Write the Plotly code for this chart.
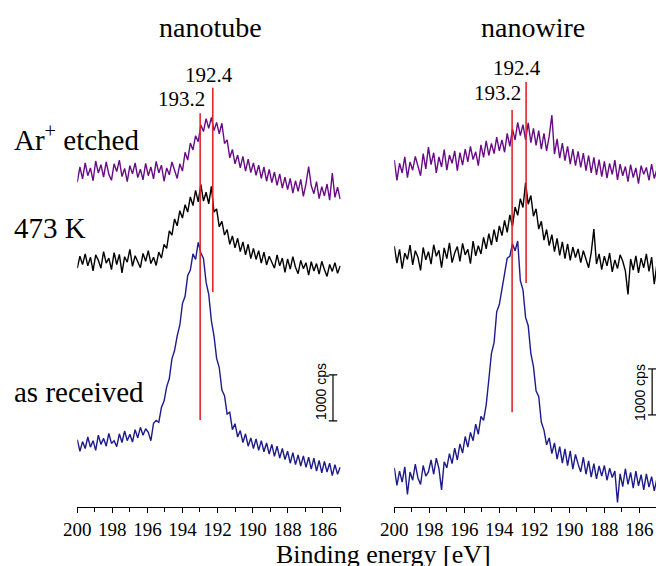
import plotly.graph_objects as go

# ---------------- data ----------------
# binding-energy sampling grid (eV), 200 -> 185 in 0.15 eV steps
energy = [round(200 - 0.15 * i, 2) for i in range(101)]

tick_values = [200, 198, 196, 194, 192, 190, 188, 186]
tick_labels = ["200", "198", "196", "194", "192", "190", "188", "186"]

panel_titles = ["nanotube", "nanowire"]
row_labels = ["Ar<sup>+</sup> etched", "473 K", "as received"]

# intensities (cps, relative to each spectrum's own baseline)
nanotube_etched = [
    280, 610, 350, 700, 420, 590, 310, 740, 480, 660,
    390, 720, 450, 320, 680, 510, 760, 400, 580, 290,
    640, 460, 700, 380, 560, 330, 690, 420, 610, 350,
    730, 480, 650, 300, 590, 440, 720, 510, 360, 680,
    520, 930, 760, 1130, 980, 1290, 1160, 1520, 1380, 1660,
    1450, 1690, 1400, 1580, 1330, 1560, 1120, 1200, 810, 990,
    680, 870, 590, 840, 520, 780, 490, 700, 430, 650,
    360, 610, 300, 560, 270, 500, 210, 460, 150, 390,
    120, 360, 40, 310, 80, 340, -30, 250, 620, 200,
    30, 290, -80, 180, -20, 240, -110, 480, -50, 170,
    -90]
nanotube_473K = [
    40, 300, 120, 350, 90, 280, -20, 330, 210, 40,
    400, 150, 260, 10, 380, 120, 340, -60, 290, 170,
    450, 80, 310, 160, 50, 360, 190, 420, 140, 280,
    100, 390, 260, 560, 470, 850, 760, 1110, 960, 1290,
    1130, 1420, 1260, 1590, 1400, 1730, 1480, 1860, 1500, 1690,
    1440, 1820, 1260, 1330, 940, 1060, 760, 880, 560, 740,
    480, 690, 400, 610, 330, 560, 250, 470, 230, 420,
    150, 390, 110, 300, 170, 40, 330, 90, 260, -50,
    240, 20, 290, 60, -80, 210, 30, 160, -110, 180,
    -20, 140, -90, 190, 10, -140, 120, -30, 160, -70,
    90]
nanotube_received = [
    660, 410, 620, 470, 720, 500, 640, 430, 760, 560,
    690, 520, 800, 580, 640, 510, 790, 600, 850, 640,
    780, 610, 880, 700, 930, 760, 900, 820, 640, 1020,
    1080, 1040, 1360, 1500, 1810, 1990, 2420, 2600, 2920, 3150,
    3620, 3780, 4230, 4350, 4700, 4580, 4950, 4720, 4600, 4080,
    3820, 3250, 2920, 2430, 2230, 1740, 1620, 1220, 1260, 880,
    1010, 720, 860, 600, 790, 520, 700, 470, 680, 430,
    640, 400, 590, 350, 560, 300, 520, 260, 470, 230,
    410, 150, 380, 120, 330, 90, 310, 60, 280, 20,
    260, -20, 210, -60, 190, -40, 150, -120, 120, -90,
    60]

nanowire_etched = [
    320, -120, 250, 40, 390, -60, 280, 100, 400, 190,
    -20, 460, 130, 600, 220, 480, 40, 390, 170, 550,
    100, 430, 250, 520, 90, 480, 210, 560, 280, 620,
    330, 500, 200, 650, 380, 740, 420, 680, 460, 820,
    520, 760, 490, 900, 620, 1000, 760, 1140, 850, 1090,
    760, 1130, 700, 1010, 640, 960, 560, 900, 520, 840,
    1300, 450, 780, 360, 690, 310, 620, 230, 560, 200,
    510, 160, 470, 90, 420, 40, 380, 0, 330, -40,
    290, -70, 250, 10, 320, -110, 230, -20, 180, -150,
    220, -60, 150, -190, 200, 10, 160, -120, 230, -80,
    120]
nanowire_473K = [
    450, 80, 380, -40, 300, 160, 470, 40, 350, 210,
    -80, 420, 150, 330, 60, 480, 230, 360, -20, 410,
    180, 520, 90, 300, 440, 120, 510, 260, 380, 70,
    560, 240, 460, 280, 640, 390, 720, 470, 810, 540,
    890, 680, 1010, 750, 1130, 880, 1300, 1120, 1480, 1290,
    1830, 1360, 1550, 1100, 1260, 820, 990, 580, 810, 460,
    700, 330, 620, 250, 540, 180, 500, 140, 430, 200,
    390, 90, 350, 160, -20, 310, 820, 60, 280, -60,
    230, 20, 300, -110, 150, -40, 260, 120, -90, -600,
    170, -70, 240, -130, 190, -20, 280, -100, 210, -380,
    60]
nanowire_received = [
    330, -50, 260, 20, 350, -250, 240, 60, 410, 110,
    -30, 380, 150, 240, 500, 190, 540, 310, -150, 460,
    330, 640, 420, 760, 500, 850, 650, 1010, 780, 1100,
    920, 1280, 1060, 1450, 1360, 1700, 2250, 2820, 3050, 3720,
    3880, 4230, 4500, 4890, 4930, 5200, 5050, 5260, 4400, 4200,
    3600, 3420, 2820, 2530, 2000, 1880, 1320, 1150, 830, 980,
    640, 870, 520, 790, 430, 740, 380, 700, 300, 620,
    410, 240, 560, 190, 480, 130, 420, 90, 370, 150,
    380, 60, 320, 120, 260, -420, 200, -80, 310, -30,
    230, -110, 260, -60, 180, -150, 200, -90, 140, -170,
    90]

# vertical stacking offsets (cps)
nanotube_offsets = [6760, 5130, 780]
nanowire_offsets = [7200, 5200, 500]

# marker lines: label, drawn position (eV), bottom / top (cps)
line_labels = ["193.2", "192.4"]
nanotube_line_e = [192.99, 192.27]
nanotube_line_bottom = [1870, 4650]
nanotube_line_top = [8540, 9090]
nanowire_line_e = [193.27, 192.47]
nanowire_line_bottom = [2040, 4850]
nanowire_line_top = [8610, 9220]

scale_bar_cps = 1000

# ---------------- styling ----------------
colors = ["#680c85", "#000000", "#1d1a8a"]
red = "#e3262b"
serif = "Liberation Serif, Times New Roman, serif"
W, H = 656, 566
AXIS_Y = 507            # pixel row of the x-axis line

def fx(px):
    return px / W

def fy(px):
    return 1 - px / H

fig = go.Figure()

panels = [
    ("x", "y", [nanotube_etched, nanotube_473K, nanotube_received], nanotube_offsets,
     nanotube_line_e, nanotube_line_bottom, nanotube_line_top),
    ("x2", "y2", [nanowire_etched, nanowire_473K, nanowire_received], nanowire_offsets,
     nanowire_line_e, nanowire_line_bottom, nanowire_line_top),
]

for xa, ya, series, offs, le, lb, lt in panels:
    for s, off, c in zip(series, offs, colors):
        fig.add_trace(go.Scatter(x=energy, y=[v + off for v in s], mode="lines",
                                 line=dict(color=c, width=1.4), xaxis=xa, yaxis=ya,
                                 showlegend=False, hoverinfo="skip"))
    for e, b, t in zip(le, lb, lt):
        fig.add_trace(go.Scatter(x=[e, e], y=[b, t], mode="lines",
                                 line=dict(color=red, width=1.6), xaxis=xa, yaxis=ya,
                                 showlegend=False, hoverinfo="skip"))

yrange = [-21.74, 11000]
ydom = [fy(AXIS_Y), 1]
xcommon = dict(showgrid=False, zeroline=False, showline=True, linecolor="black", linewidth=1,
               ticks="outside", ticklen=5, tickwidth=1, tickcolor="black",
               tickmode="array", tickvals=tick_values, ticktext=tick_labels,
               minor=dict(dtick=1, tick0=200, ticks="outside", ticklen=4, tickcolor="black"),
               tickfont=dict(family=serif, size=19, color="black"), automargin=False)
fig.update_layout(
    width=W, height=H,
    margin=dict(l=0, r=0, t=0, b=0, autoexpand=False),
    paper_bgcolor="white", plot_bgcolor="white",
    xaxis=dict(domain=[fx(77.3), fx(340.7)], range=[200, 184.97], anchor="y", **xcommon),
    xaxis2=dict(domain=[fx(394.3), 1.0], range=[200, 185.05], anchor="y2", **xcommon),
    yaxis=dict(range=yrange, visible=False, domain=ydom),
    yaxis2=dict(range=yrange, visible=False, domain=ydom, anchor="x2"),
)

ann = []
# panel titles
for t, xc in zip(panel_titles, [210, 533]):
    ann.append(dict(text=t, x=fx(xc), y=fy(27), xref="paper", yref="paper",
                    showarrow=False, font=dict(family=serif, size=28, color="black"),
                    xanchor="center", yanchor="middle"))
# row labels
for t, yc in zip(row_labels, [138, 228, 392]):
    ann.append(dict(text=t, x=fx(12), y=fy(yc), xref="paper", yref="paper",
                    showarrow=False, font=dict(family=serif, size=29, color="black"),
                    xanchor="left", yanchor="middle"))
# line labels
label_pos = [
    ("x", "y", [(194.03, 8848), (192.49, 9370)]),
    ("x2", "y2", [(194.13, 8979), (192.99, 9522)]),
]
for xa, ya, pos in label_pos:
    for t, (lx, ly) in zip(line_labels, pos):
        ann.append(dict(text=t, x=lx, y=ly, xref=xa, yref=ya, showarrow=False,
                        font=dict(family=serif, size=21, color="black"),
                        xanchor="center", yanchor="middle"))
# axis title
ann.append(dict(text="Binding energy [eV]", x=fx(383), y=fy(554), xref="paper", yref="paper",
                showarrow=False, font=dict(family=serif, size=26, color="black"),
                xanchor="center", yanchor="middle"))

# scale bars
shapes = []
for xa, ya, bx, b0, tx, ty in [("x", "y", 185.41, 1850, 186.10, 2500),
                                ("x2", "y2", 185.27, 1980, 185.96, 2460)]:
    b1 = b0 + scale_bar_cps
    shapes.append(dict(type="line", xref=xa, yref=ya, x0=bx, x1=bx, y0=b0, y1=b1,
                       line=dict(color="black", width=1.2)))
    for yy in (b0, b1):
        shapes.append(dict(type="line", xref=xa, yref=ya, x0=bx + 0.24, x1=bx - 0.24, y0=yy, y1=yy,
                           line=dict(color="black", width=1.2)))
    ann.append(dict(text=f"{scale_bar_cps} cps", x=tx, y=ty, xref=xa, yref=ya, showarrow=False,
                    textangle=-90, font=dict(family="Liberation Sans, Arial, sans-serif", size=14,
                                             color="black"),
                    xanchor="center", yanchor="middle"))

fig.update_layout(annotations=ann, shapes=shapes)
fig.write_html("out.html",
               config={"displayModeBar": False},
               post_script="document.body.style.margin='0px';"
                           "document.body.style.overflow='hidden';")
